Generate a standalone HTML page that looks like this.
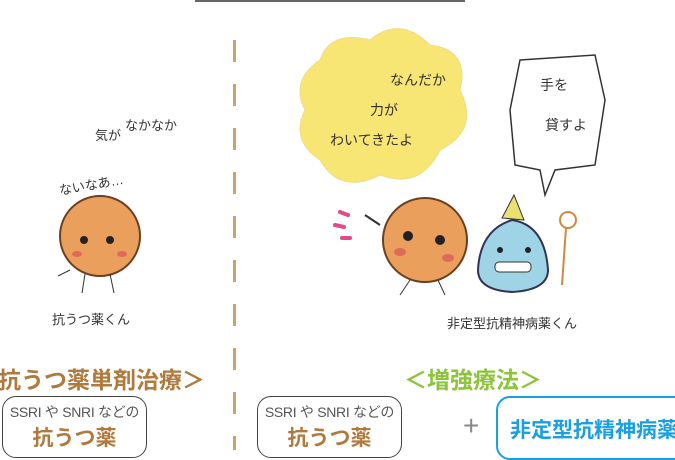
<!DOCTYPE html>
<html><head><meta charset="utf-8"><style>
body{margin:0;width:675px;height:450px;background:#fff;overflow:hidden;position:relative;font-family:"Liberation Sans","Noto Sans CJK JP",sans-serif}
.a{position:absolute;white-space:nowrap}
.box{position:absolute;border:1.5px solid #444;border-radius:14px;background:#fff;text-align:center;white-space:nowrap}
.s{font-size:14px;color:#555;margin-top:5px;letter-spacing:-0.3px}
.b{font-size:21px;font-weight:bold;color:#b07a3c;margin-top:0px}
</style></head><body>
<div class="a" style="left:195px;top:0;width:270px;height:2px;background:#666"></div>
<div class="a" style="left:233px;top:40px;width:3px;height:410px;background:repeating-linear-gradient(#c9a36e 0 22px,transparent 22px 44px)"></div>
<svg class="a" style="left:0;top:0" width="675" height="340">
 <circle cx="100" cy="236" r="40" fill="#eaa05c" stroke="#6a4020" stroke-width="2"/>
 <circle cx="84" cy="240" r="4" fill="#222"/><circle cx="110" cy="240" r="4" fill="#222"/>
 <ellipse cx="77" cy="254" rx="5" ry="3" fill="#e06a5a"/><ellipse cx="122" cy="254" rx="5" ry="3" fill="#e06a5a"/>
 <line x1="70" y1="270" x2="58" y2="276" stroke="#333"/><line x1="85" y1="274" x2="82" y2="293" stroke="#333"/><line x1="110" y1="274" x2="114" y2="293" stroke="#333"/>
 <text x="60" y="195" font-size="13" fill="#333" transform="rotate(-10 60 195)">ないなあ…</text>
 <text x="95" y="140" font-size="13" fill="#333">気が</text>
 <text x="125" y="130" font-size="13" fill="#333">なかなか</text>
 <path d="M320 60 Q330 30 370 40 Q400 15 430 45 Q470 50 460 90 Q480 130 440 150 Q420 190 380 175 Q340 195 320 160 Q290 140 305 110 Q290 80 320 60Z" fill="#f7e574" stroke="#eedd80"/>
 <text x="390" y="85" font-size="14" fill="#333">なんだか</text>
 <text x="370" y="115" font-size="14" fill="#333">力が</text>
 <text x="330" y="145" font-size="14" fill="#333">わいてきたよ</text>
 <path d="M520 60 L595 55 L605 100 L595 165 L555 170 L545 195 L540 170 L515 165 L510 110Z" fill="#fff" stroke="#333" stroke-width="1.5"/>
 <text x="540" y="90" font-size="14" fill="#333">手を</text>
 <text x="545" y="130" font-size="14" fill="#333">貸すよ</text>
 <circle cx="425" cy="240" r="42" fill="#eaa05c" stroke="#6a4020" stroke-width="2"/>
 <circle cx="408" cy="236" r="5" fill="#222"/><circle cx="440" cy="240" r="5" fill="#222"/>
 <ellipse cx="400" cy="252" rx="6" ry="4" fill="#e06a5a"/><ellipse cx="448" cy="258" rx="6" ry="4" fill="#e06a5a"/>
 <line x1="380" y1="225" x2="365" y2="215" stroke="#333" stroke-width="2"/><line x1="410" y1="280" x2="400" y2="295" stroke="#333"/><line x1="438" y1="280" x2="445" y2="295" stroke="#333"/>
 <path d="M340 212 l8 3 M335 225 l9 2 M342 238 l8 0" stroke="#e44a8a" stroke-width="4" stroke-linecap="round"/>
 <path d="M478 270 Q480 230 512 220 Q545 225 548 270 Q548 290 512 292 Q478 290 478 270Z" fill="#9ed4e6" stroke="#335" stroke-width="2"/>
 <path d="M502 218 L514 195 L524 220Z" fill="#e8e070" stroke="#333"/>
 <rect x="495" y="262" width="36" height="10" rx="4" fill="#fff" stroke="#333"/>
 <circle cx="500" cy="250" r="3" fill="#222"/><circle cx="528" cy="250" r="3" fill="#222"/>
 <circle cx="568" cy="220" r="8" fill="none" stroke="#d08a40" stroke-width="2"/><line x1="566" y1="228" x2="562" y2="285" stroke="#d08a40" stroke-width="2"/>
</svg>
<div class="a" style="left:52px;top:309px;font-size:13px;color:#333">抗うつ薬くん</div>
<div class="a" style="left:447px;top:313px;font-size:13px;color:#333">非定型抗精神病薬くん</div>
<div class="a" style="left:-2px;top:361px;font-size:23px;font-weight:bold;color:#b07a3c">抗うつ薬単剤治療＞</div>
<div class="a" style="left:404px;top:361px;font-size:23px;font-weight:bold;color:#8cc43c">＜増強療法＞</div>
<div class="box" style="left:2px;top:396px;width:143px;height:60px"><div class="s">SSRI や SNRI などの</div><div class="b">抗うつ薬</div></div>
<div class="box" style="left:257px;top:396px;width:143px;height:60px"><div class="s">SSRI や SNRI などの</div><div class="b">抗うつ薬</div></div>
<div class="a" style="left:463px;top:410px;font-size:28px;color:#888">+</div>
<div class="box" style="left:496px;top:396px;width:200px;height:60px;border-color:#1aa0e0;border-width:2px"><div style="font-size:21px;font-weight:bold;color:#1aa0e0;margin-top:16px;text-align:left;padding-left:12px">非定型抗精神病薬</div></div>
</body></html>
